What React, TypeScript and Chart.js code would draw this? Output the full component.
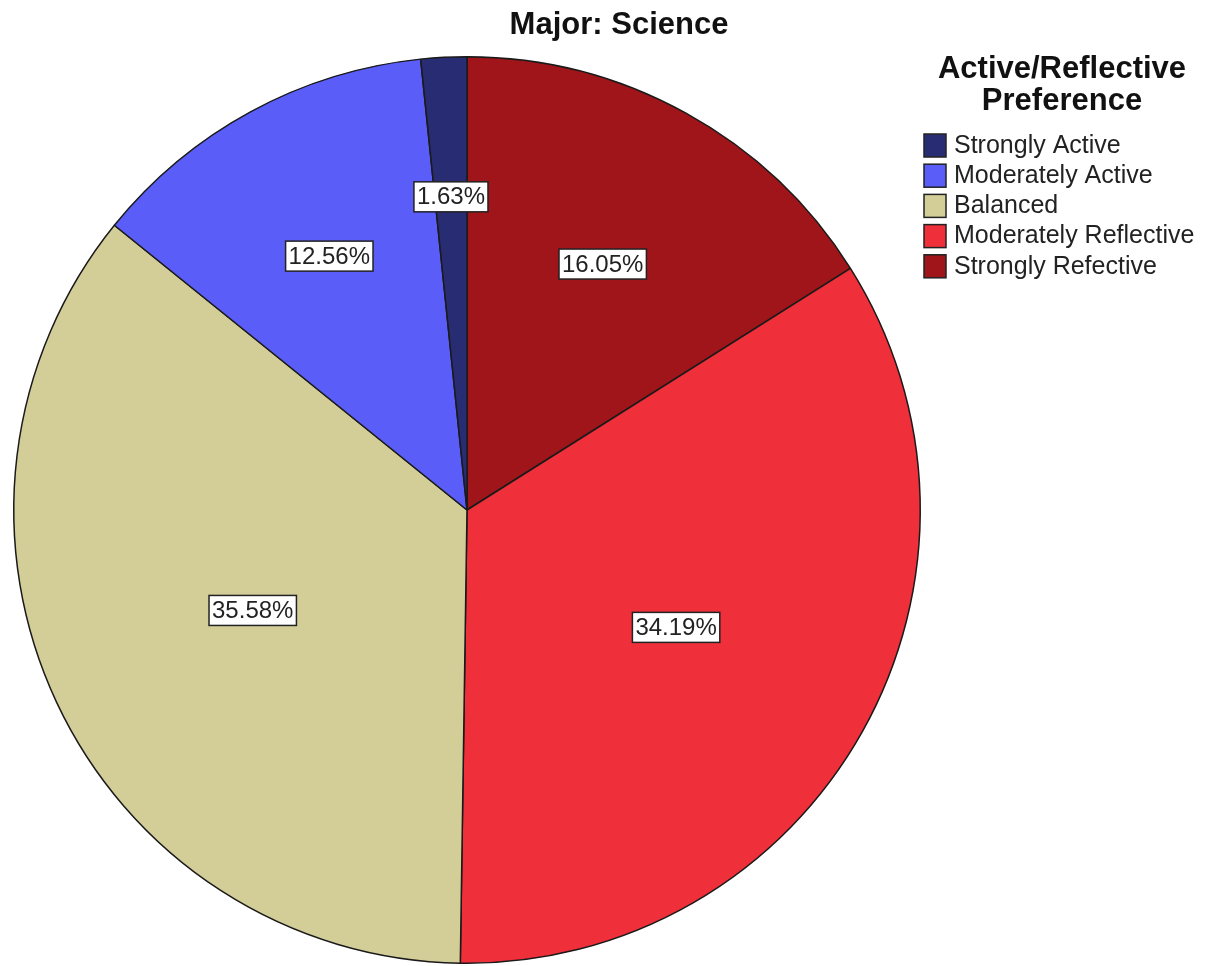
import React, { useEffect, useRef } from "react";
import { Chart, registerables } from "chart.js";

Chart.register(...registerables);

const chartTitle = "Major: Science";
const legendTitle = ["Active/Reflective", "Preference"];
const categories = [
  "Strongly Active",
  "Moderately Active",
  "Balanced",
  "Moderately Reflective",
  "Strongly Refective",
];
const percents = [1.63, 12.56, 35.58, 34.19, 16.05];
const colors = ["#282c72", "#5a5df8", "#d3cd98", "#ef2f39", "#9f1519"];

const FONT = "'Liberation Sans', Arial, sans-serif";

export default function App() {
  const ref = useRef<HTMLCanvasElement | null>(null);

  useEffect(() => {
    if (!ref.current) return;
    // SPSS draws slices counter-clockwise from 12 o'clock; Chart.js goes clockwise,
    // so feed reversed copies while the legend keeps the original order.
    const dLabels = [...categories].reverse();
    const dValues = [...percents].reverse();
    const dColors = [...colors].reverse();

    const overlay = {
      id: "overlay",
      afterDraw(chart: any) {
        const ctx = chart.ctx as CanvasRenderingContext2D;
        ctx.save();
        // Title
        ctx.fillStyle = "#111";
        ctx.font = `bold 31px ${FONT}`;
        ctx.textAlign = "center";
        ctx.textBaseline = "middle";
        ctx.fillText(chartTitle, 619, 25);

        // Legend title
        ctx.font = `bold 31px ${FONT}`;
        legendTitle.forEach((t, i) => ctx.fillText(t, 1062, 69 + i * 32));

        // Legend items
        ctx.font = `25px ${FONT}`;
        ctx.textAlign = "left";
        categories.forEach((c, i) => {
          const cy = 145 + i * 30.2;
          ctx.fillStyle = colors[i];
          ctx.fillRect(924, cy - 11, 22, 23);
          ctx.strokeStyle = "#222";
          ctx.lineWidth = 1.5;
          ctx.strokeRect(924, cy - 11, 22, 23);
          ctx.fillStyle = "#222";
          ctx.fillText(c, 954, cy + 1);
        });

        // Percentage labels
        const meta = chart.getDatasetMeta(0);
        const total = dValues.reduce((a, b) => a + b, 0);
        ctx.font = `24px ${FONT}`;
        ctx.textAlign = "center";
        meta.data.forEach((arc: any, i: number) => {
          const frac = dValues[i] / total;
          const mid = (arc.startAngle + arc.endAngle) / 2;
          const f = 0.7 - 0.5 * frac;
          const x = arc.x + Math.cos(mid) * arc.outerRadius * f;
          const y = arc.y + Math.sin(mid) * arc.outerRadius * f;
          const text = dValues[i].toFixed(2) + "%";
          const w = ctx.measureText(text).width + 6;
          const h = 30;
          ctx.fillStyle = "#fff";
          ctx.fillRect(x - w / 2, y - h / 2, w, h);
          ctx.strokeStyle = "#222";
          ctx.lineWidth = 1.5;
          ctx.strokeRect(x - w / 2, y - h / 2, w, h);
          ctx.fillStyle = "#222";
          ctx.fillText(text, x, y + 1);
        });
        ctx.restore();
      },
    };

    const chart = new Chart(ref.current, {
      type: "pie",
      data: {
        labels: dLabels,
        datasets: [
          {
            data: dValues,
            backgroundColor: dColors,
            borderColor: "#1a1a1a",
            borderWidth: 1.5,
          },
        ],
      },
      options: {
        responsive: false,
        animation: false,
        layout: { padding: { left: 13, top: 56, right: 287, bottom: 2 } },
        plugins: {
          legend: { display: false },
          title: { display: false },
          tooltip: { enabled: false },
        },
      },
      plugins: [overlay],
    });
    return () => chart.destroy();
  }, []);

  return (
    <div style={{ position: "absolute", left: 0, top: 0, width: 1208, height: 966, background: "#fff" }}>
      <canvas ref={ref} width={1208} height={966} />
    </div>
  );
}
